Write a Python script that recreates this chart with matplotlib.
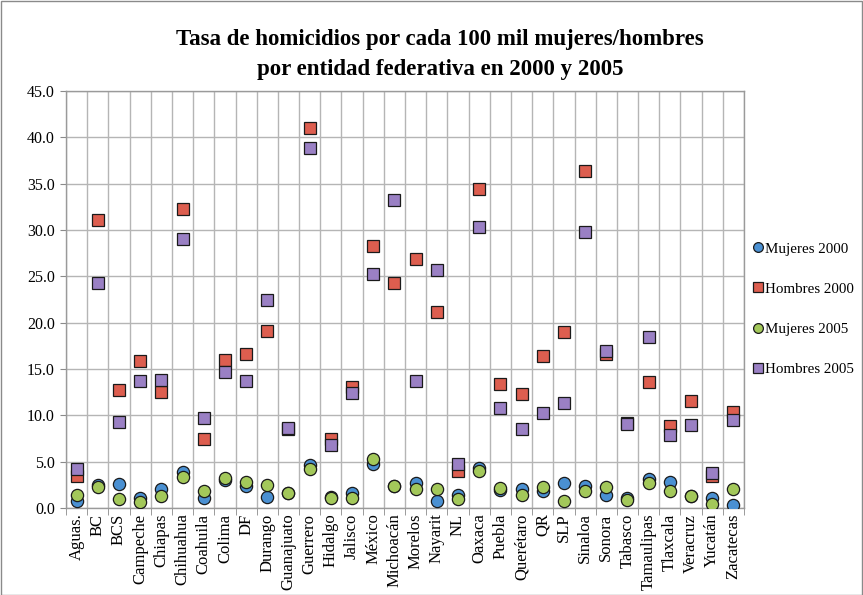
import matplotlib
matplotlib.use("Agg")
import matplotlib.pyplot as plt
import numpy as np
from matplotlib.patches import Rectangle

states = ["Aguas.", "BC", "BCS", "Campeche", "Chiapas", "Chihuahua", "Coahuila", "Colima",
          "DF", "Durango", "Guanajuato", "Guerrero", "Hidalgo", "Jalisco", "México",
          "Michoacán", "Morelos", "Nayarit", "NL", "Oaxaca", "Puebla", "Querétaro", "QR",
          "SLP", "Sinaloa", "Sonora", "Tabasco", "Tamaulipas", "Tlaxcala", "Veracruz",
          "Yucatán", "Zacatecas"]

mujeres_2000 = [0.8, 2.5, 2.6, 1.1, 2.0, 3.9, 1.1, 3.0, 2.4, 1.2, 1.6, 4.6, 1.2, 1.6, 4.7,
                2.4, 2.7, 0.8, 1.4, 4.3, 1.9, 2.0, 1.8, 2.7, 2.4, 1.4, 1.1, 3.1, 2.8, 1.3,
                1.1, 0.3]
hombres_2000 = [3.5, 31.1, 12.7, 15.9, 12.5, 32.3, 7.4, 16.0, 16.6, 19.1, 8.5, 41.0, 7.5,
                13.1, 28.3, 24.3, 26.9, 21.1, 4.0, 34.4, 13.4, 12.3, 16.4, 19.0, 36.4, 16.6,
                9.2, 13.6, 8.9, 11.5, 3.4, 10.4]
mujeres_2005 = [1.4, 2.3, 1.0, 0.7, 1.3, 3.3, 1.8, 3.2, 2.8, 2.5, 1.6, 4.2, 1.1, 1.1, 5.3,
                2.4, 2.0, 2.1, 1.0, 4.0, 2.2, 1.4, 2.3, 0.8, 1.8, 2.3, 0.9, 2.7, 1.8, 1.3,
                0.4, 2.1]
hombres_2005 = [4.2, 24.3, 9.3, 13.7, 13.8, 29.0, 9.7, 14.7, 13.7, 22.5, 8.6, 38.8, 6.8,
                12.4, 25.3, 33.2, 13.7, 25.7, 4.8, 30.3, 10.8, 8.5, 10.3, 11.3, 29.8, 16.9,
                9.1, 18.5, 7.9, 9.0, 3.8, 9.5]

series = [
    ("Mujeres 2000", mujeres_2000, "o", "#4A90D2"),
    ("Hombres 2000", hombres_2000, "s", "#DD5E4F"),
    ("Mujeres 2005", mujeres_2005, "o", "#A3C85A"),
    ("Hombres 2005", hombres_2005, "s", "#9A80C4"),
]

W, H = 863, 595
fig = plt.figure(figsize=(W / 100, H / 100), dpi=100)
plt.rcParams['font.family'] = ['Liberation Serif', 'DejaVu Serif']

# outer border
fig.patches.append(Rectangle((0.5 / W, 0.5 / H), 1 - 1.5 / W, 1 - 1.5 / H,
                             transform=fig.transFigure, fill=False,
                             edgecolor="#8a8a8a", linewidth=1.0))

left, right, top, bottom = 66, 744, 91, 508
ax = fig.add_axes([left / W, 1 - bottom / H, (right - left) / W, (bottom - top) / H])

x = np.arange(len(states))
handles = []
for name, vals, mk, col in series:
    h, = ax.plot(x, vals, linestyle="none", marker=mk, markersize=8.8,
                 markerfacecolor=col, markeredgecolor="#1a1a1a", markeredgewidth=0.9,
                 label=name, zorder=3)
    handles.append(h)

ax.set_xlim(-0.5, len(states) - 0.5)
ax.set_ylim(0, 45)
ax.set_yticks(np.arange(0, 45.1, 5))
ax.set_yticklabels([f"{v:.1f}" for v in np.arange(0, 45.1, 5)], fontsize=11.5)

# category tick labels at centers, gridlines/tick marks at boundaries
ax.set_xticks(x)
ax.set_xticklabels(states, rotation=90, fontsize=12)
ax.tick_params(axis="x", length=0, pad=4)
ax.set_xticks(np.arange(-0.5, len(states)), minor=True)
ax.tick_params(axis="x", which="minor", length=5, color="#8a8a8a")
ax.tick_params(axis="y", length=4, color="#8a8a8a", pad=4)

ax.grid(True, which="minor", axis="x", color="#b5b5b5", linewidth=1.0, zorder=0)
ax.grid(True, which="major", axis="y", color="#b5b5b5", linewidth=1.0, zorder=0)
ax.set_axisbelow(True)
for s in ["left", "bottom", "top", "right"]:
    ax.spines[s].set_color("#9a9a9a")
    ax.spines[s].set_linewidth(1.0)

fig.text(440 / W, 1 - 40 / H,
         "Tasa de homicidios por cada 100 mil mujeres/hombres",
         ha="center", va="center", fontsize=16.5, fontweight="bold")
fig.text(440 / W, 1 - 69 / H,
         "por entidad federativa en 2000 y 2005",
         ha="center", va="center", fontsize=16.5, fontweight="bold")

fig.legend(handles=handles, loc="upper left", bbox_to_anchor=(753 / W, 1 - 242 / H),
           frameon=False, fontsize=10.8, handlelength=0.6, handletextpad=0.2,
           labelspacing=1.78, borderaxespad=0, borderpad=0, markerscale=0.8)

fig.savefig("out.png", dpi=100)
